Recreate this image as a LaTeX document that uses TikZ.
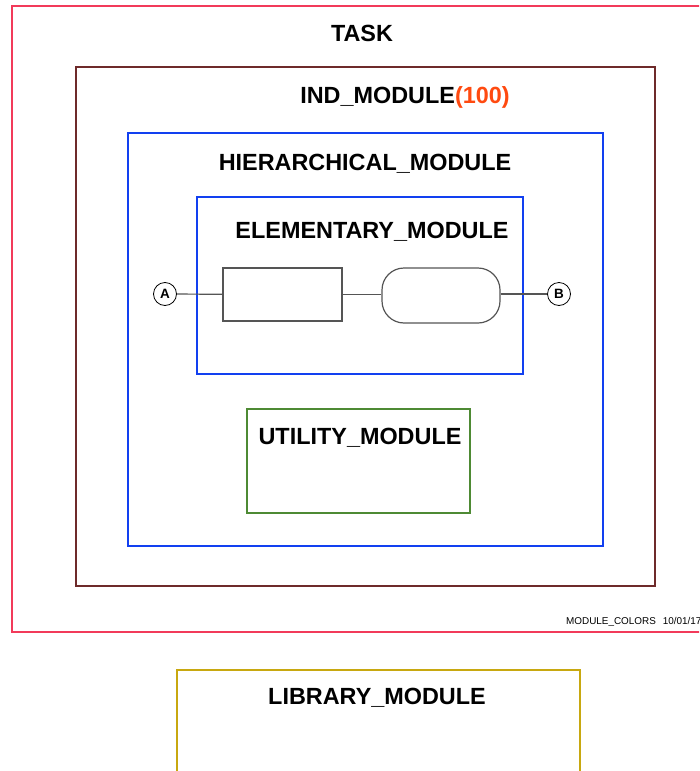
\documentclass[tikz,border=0pt]{standalone}
\usepackage{fontspec}
\setmainfont{Liberation Sans}
\definecolor{taskred}{HTML}{F23A5A}
\definecolor{indbrown}{HTML}{6E2A2A}
\definecolor{hblue}{HTML}{1240F0}
\definecolor{ugreen}{HTML}{4E8A34}
\definecolor{libgold}{HTML}{C8A810}
\definecolor{numorange}{HTML}{FF4A10}
\definecolor{elgray}{HTML}{555555}
\begin{document}
\begin{tikzpicture}[x=1pt,y=-1pt,
  frame/.style={line width=2pt},
  title/.style={font=\fontsize{23.4}{26}\selectfont\bfseries, inner sep=0pt},
  elem/.style={draw=elgray, line width=1.2pt, minimum width=119pt, minimum height=53pt, inner sep=0pt},
  port/.style={circle, draw=black, line width=0.8pt, minimum size=23pt, inner sep=0pt, font=\fontsize{13.5}{14}\selectfont\bfseries},
  wire/.style={draw=elgray, line width=1.2pt}]
\useasboundingbox (0,0) rectangle (699,771);
\clip (0,0) rectangle (699,771);
\fill[white] (0,0) rectangle (699,771);
% frames
\draw[frame, taskred] (12,6) rectangle (760,632);
\draw[frame, indbrown] (76,67) rectangle (655,586);
\draw[frame, hblue] (128,133) rectangle (603,546);
\draw[frame, hblue] (197,197) rectangle (523,374);
\draw[frame, ugreen] (247,409) rectangle (470,513);
\draw[frame, libgold] (177,670) rectangle (580,800);
% titles
\node[title] (task) at (362,33) {TASK};
\node[title] (ind) at (405,97) {IND\_MODULE\textcolor{numorange}{(100)}};
\node[title] (hier) at (365,164) {HIERARCHICAL\_MODULE};
\node[title] (elemt) at (372,232) {ELEMENTARY\_MODULE};
\node[title] (util) at (360,438) {UTILITY\_MODULE};
\node[title] (lib) at (377,698) {LIBRARY\_MODULE};
\node[font=\fontsize{9.9}{11}\selectfont, anchor=west, inner sep=0pt] (stamp) at (566,622) {MODULE\_COLORS\hspace{7pt}10/01/17};
% elementary content
\node[port] (A) at (165,294) {A};
\node[port] (B) at (559,294) {B};
\node[elem] (r1) at (282.5,294.5) {};
\node[elem, minimum width=118pt, minimum height=55pt, rounded corners=22pt] (r2) at (441,295.5) {};
\draw[wire] (A) -- (r1);
\draw[wire] (r1) -- (r2.west |- r1);
\draw[wire] (r2.east |- B) -- (B);
\end{tikzpicture}
\end{document}
